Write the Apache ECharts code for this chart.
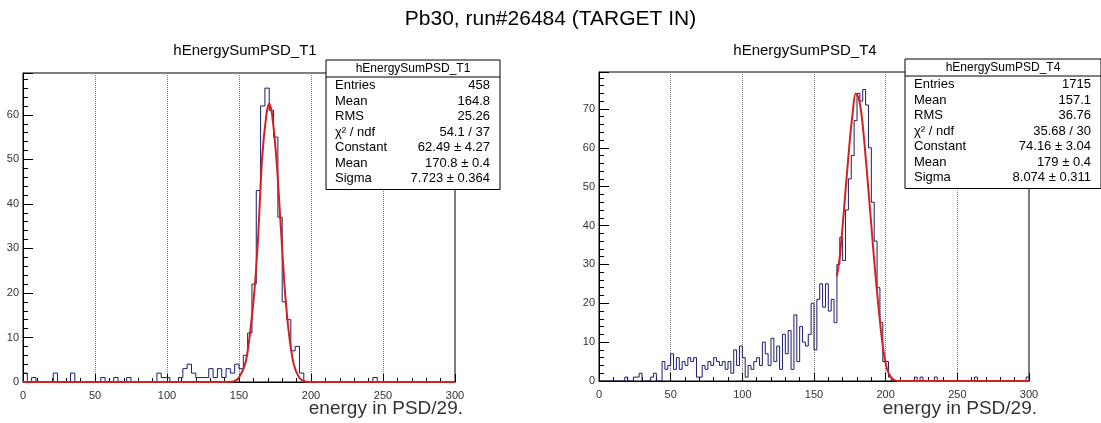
<!DOCTYPE html>
<html>
<head>
<meta charset="utf-8">
<script src="https://cdn.jsdelivr.net/npm/echarts@6/dist/echarts.min.js"></script>
<style>html,body{margin:0;padding:0;background:#fff}#main{width:1101px;height:423px}</style>
</head>
<body>
<div id="main"></div>
<script>
// bin width 3 for T1 (100 bins), 2 for T4 (150 bins)
var t1Width = 3;
var t1Counts = [
  2,0,1,0,0,0,0,2,0,0,   // 0-27
  0,2,0,0,0,0,0,0,1,0,   // 30-57
  0,1,0,0,1,0,0,0,0,0,   // 60-87
  0,2,1,1,0,0,1,3,4,2,   // 90-117
  1,1,1,3,1,3,1,3,2,4,   // 120-147
  3,6,11,22,43,62,66,61,55,37, // 150-177
  18,14,7,8,2,0,0,0,0,0, // 180-207
  0,0,0,0,0,0,0,0,0,0,   // 210-237
  0,1,0,0,0,0,0,0,0,0,   // 240-267
  0,0,0,0,0,0,0,0,0,0];  // 270-297
var t1FitX = [0,140,146,150,155,160,163,166,169,171,173,176,179,182,185,188,192,196,200,300];
var t1FitY = [0,0,0.1,1,5,18,31,50,60,62.5,60,50,35,20,10,4,0.9,0.1,0,0];

var t4Width = 2;
var t4Counts = [0,0,0,0,0,0,0,0,0,1,0,0,1,1,2,0,0,0,1,2,0,0,5,3,4,7,3,6,3,5,4,6,5,6,1,1,4,3,5,4,6,5,4,5,3,5,2,8,4,9,
  6,1,4,3,5,6,4,10,7,4,11,5,9,3,12,7,13,3,17,5,14,10,9,12,20,8,21,25,19,25,18,21,15,30,37,31,44,52,58,67,
  74,72,75,71,60,46,36,24,15,5,5,1,0,0,0,0,0,0,0,0,1,0,1,0,0,0,0,1,0,0,0,0,0,0,0,0,0,0,0,0,0,1,0,0,0,0,0,0,0,0,0,0,0,0,0,0,0,0,0,1];
var t4FitX = [166,168,170,172,175,177,179,181,183,185,188,190,192,195,198,201,204,207,210,300];
var t4FitY = [27,32,40,49,62,69,74,73,69,62,49,40,31,19,9,3,0.8,0.1,0,0];

function histData(counts, w) {
  var d = counts.map(function (v, i) { return [i * w, v]; });
  d.push([300, counts[counts.length - 1]]);
  return d;
}
function pairs(xs, ys) { return xs.map(function (x, i) { return [x, ys[i]]; }); }

var axisTxt = {color: '#333', fontSize: 11, fontFamily: 'Liberation Sans'};
function xAxis(g) {
  return {type: 'value', gridIndex: g, min: 0, max: 300, interval: 50,
    axisLine: {lineStyle: {color: '#000'}}, axisTick: {inside: true, length: 8, lineStyle: {color: '#000'}},
    minorTick: {show: true, splitNumber: 5, length: 4, lineStyle: {color: '#000'}},
    splitLine: {show: true, lineStyle: {type: 'dotted', color: '#777'}},
    axisLabel: axisTxt};
}
function yAxis(g, max) {
  return {type: 'value', gridIndex: g, min: 0, max: max, interval: 10,
    axisLine: {show: true, lineStyle: {color: '#000'}}, axisTick: {inside: true, length: 10, lineStyle: {color: '#000'}},
    minorTick: {show: true, splitNumber: 5, length: 5, lineStyle: {color: '#000'}},
    splitLine: {show: false}, axisLabel: {color: '#333', fontSize: 11, fontFamily: 'Liberation Sans', showMaxLabel: false, margin: 4}};
}
function statBox(x, y, w, title, rows) {
  var els = [{type: 'rect', shape: {x: x, y: y, width: w, height: 17 + rows.length * 15.5 + 4},
    style: {fill: '#fff', stroke: '#000', lineWidth: 1}, z: 100},
    {type: 'line', shape: {x1: x, y1: y + 17, x2: x + w, y2: y + 17}, style: {stroke: '#000'}, z: 101},
    {type: 'text', x: x + w / 2, y: y + 3, style: {text: title, fill: '#000', font: '12px Liberation Sans', align: 'center'}, z: 101}];
  rows.forEach(function (r, i) {
    els.push({type: 'text', x: x + 9, y: y + 19 + i * 15.5, style: {text: r[0], fill: '#000', font: '13px Liberation Sans'}, z: 101});
    els.push({type: 'text', x: x + w - 10, y: y + 19 + i * 15.5, style: {text: r[1], fill: '#000', font: '13px Liberation Sans', align: 'right'}, z: 101});
  });
  return els;
}

var chart = echarts.init(document.getElementById('main'));
chart.setOption({
  animation: false,
  title: [
    {text: 'Pb30, run#26484 (TARGET IN)', left: 'center', top: 4, textStyle: {fontSize: 21, fontWeight: 'normal', color: '#000', fontFamily: 'Liberation Sans'}},
    {text: 'hEnergySumPSD_T1', left: 240, top: 38, textAlign: 'center', textStyle: {fontSize: 15, fontWeight: 'normal', color: '#000', fontFamily: 'Liberation Sans'}},
    {text: 'hEnergySumPSD_T4', left: 800, top: 38, textAlign: 'center', textStyle: {fontSize: 15, fontWeight: 'normal', color: '#000', fontFamily: 'Liberation Sans'}}
  ],
  grid: [
    {left: 23, top: 73, width: 432, height: 309, show: true, borderColor: '#000', borderWidth: 1, backgroundColor: 'transparent'},
    {left: 599, top: 72, width: 430, height: 309, show: true, borderColor: '#000', borderWidth: 1, backgroundColor: 'transparent'}
  ],
  xAxis: [xAxis(0), xAxis(1)],
  yAxis: [yAxis(0, 69.4), yAxis(1, 79.5)],
  series: [
    {type: 'line', xAxisIndex: 0, yAxisIndex: 0, step: 'end', symbol: 'none', data: histData(t1Counts, t1Width), lineStyle: {color: '#1c1c6a', width: 1}},
    {type: 'line', xAxisIndex: 0, yAxisIndex: 0, smooth: 0.3, symbol: 'none', data: pairs(t1FitX, t1FitY), lineStyle: {color: '#d42020', width: 2}},
    {type: 'line', xAxisIndex: 1, yAxisIndex: 1, step: 'end', symbol: 'none', data: histData(t4Counts, t4Width), lineStyle: {color: '#1c1c6a', width: 1}},
    {type: 'line', xAxisIndex: 1, yAxisIndex: 1, smooth: 0.3, symbol: 'none', data: pairs(t4FitX, t4FitY), lineStyle: {color: '#d42020', width: 2}}
  ],
  graphic: [].concat(
    statBox(326, 60, 174, 'hEnergySumPSD_T1', [['Entries', '458'], ['Mean', '164.8'], ['RMS', '25.26'], ['\u03c7\u00b2 / ndf', '54.1 / 37'], ['Constant', '62.49 \u00b1 4.27'], ['Mean', '170.8 \u00b1 0.4'], ['Sigma', '7.723 \u00b1 0.364']]),
    statBox(905, 59, 196, 'hEnergySumPSD_T4', [['Entries', '1715'], ['Mean', '157.1'], ['RMS', '36.76'], ['\u03c7\u00b2 / ndf', '35.68 / 30'], ['Constant', '74.16 \u00b1 3.04'], ['Mean', '179 \u00b1 0.4'], ['Sigma', '8.074 \u00b1 0.311']]),
    [{type: 'text', right: 1101 - 463, top: 399, style: {text: 'energy in PSD/29.', fill: '#333', font: '19px Liberation Sans'}},
     {type: 'text', right: 1101 - 1037, top: 399, style: {text: 'energy in PSD/29.', fill: '#333', font: '19px Liberation Sans'}}]
  )
});
</script>
</body>
</html>
